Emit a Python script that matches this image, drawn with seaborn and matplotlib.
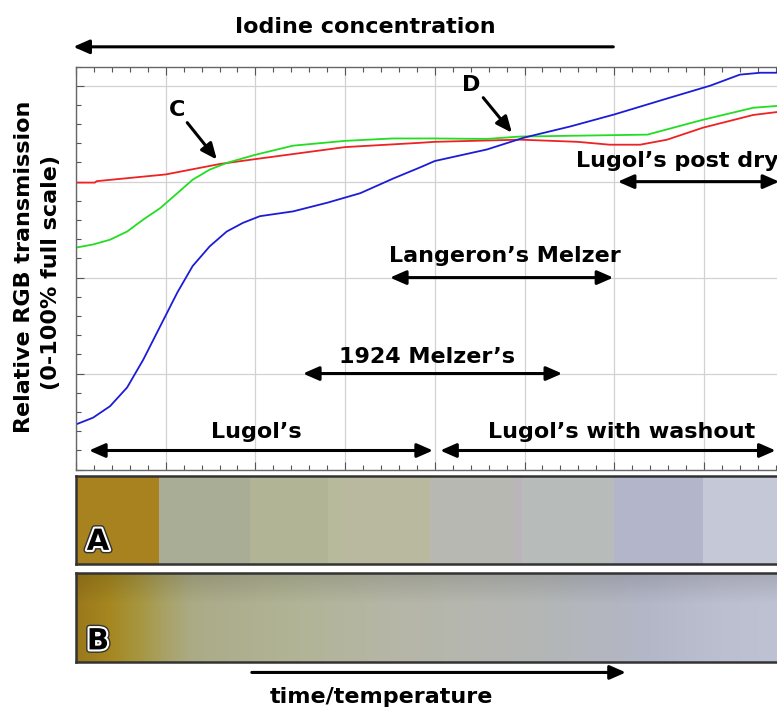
import numpy as np
import matplotlib
matplotlib.use("Agg")
import matplotlib.pyplot as plt
import matplotlib.patheffects as pe
from matplotlib.colors import to_rgb
from matplotlib.ticker import MultipleLocator
import seaborn as sns

# RGB transmission curves
# x in grid units (one vertical gridline per unit), y in % of full scale
red_x = [0, 0.21, 0.23, 1.0, 1.61, 2.0, 3.0, 3.84, 4.0, 4.95, 5.59, 5.95, 6.29, 6.59, 6.99, 7.55, 7.9]
red_y = [59.8, 59.8, 60.1, 61.5, 63.7, 64.7, 67.2, 68.1, 68.3, 68.75, 68.3, 67.7, 67.7, 68.75, 71.25, 73.9, 74.7]

green_x = [0, 0.19, 0.38, 0.57, 0.75, 0.94, 1.13, 1.30, 1.49, 1.68, 2.0, 2.42, 3.0, 3.53,
           4.0, 4.58, 4.95, 6.37, 6.99, 7.55, 7.9]
green_y = [46.25, 46.9, 47.9, 49.6, 52.1, 54.5, 57.6, 60.4, 62.5, 63.9, 65.6, 67.5, 68.5, 69.0,
           69.0, 68.9, 69.4, 69.8, 72.9, 75.4, 75.9]

blue_x = [0, 0.19, 0.38, 0.57, 0.75, 0.94, 1.13, 1.30, 1.49, 1.68, 1.86, 2.05, 2.42, 2.80,
          3.17, 3.53, 3.84, 4.0, 4.58, 5.0, 5.51, 6.0, 6.62, 7.07, 7.40, 7.63, 7.9]
blue_y = [9.4, 10.8, 13.2, 17.1, 22.9, 29.9, 36.9, 42.4, 46.5, 49.6, 51.4, 52.8, 53.8, 55.6,
          57.6, 60.6, 63.0, 64.3, 66.7, 69.2, 71.5, 74.0, 77.5, 80.0, 82.3, 82.7, 82.7]

# colour strip A: block edges (same x units) and block colours
a_edges = [0, 0.93, 1.94, 2.81, 2.98, 3.95, 4.87, 4.97, 6.0, 6.99, 8.6]
a_colors = ["#a8821e", "#aaad95", "#b2b496", "#b7bb9c", "#b9b99f", "#b8b8b2",
            "#b9b5b8", "#b7bcbb", "#b3b6cb", "#c5c8d6"]

# colour strip B: gradient stops
b_pos = [0, 0.35, 0.7, 1.0, 1.3, 1.7, 2.5, 3.5, 4.5, 5.5, 6.3, 7.2, 8.6]
b_colors = ["#9a781c", "#a5861f", "#a7963f", "#a9a268", "#abab86", "#adae8e", "#b2b497",
            "#b5b6a6", "#b6b7b0", "#b3b6ba", "#b3b6c6", "#bcbfd0", "#c3c6d6"]

sns.set_theme(style="white")
plt.rcParams["font.family"] = ["DejaVu Sans"]

W, H = 777, 709
XMAX = 8.6


def box(l, t, r, b):
    return [l / W, 1 - b / H, (r - l) / W, (b - t) / H]


fig = plt.figure(figsize=(W / 100, H / 100), dpi=100)
right_px = 76 + XMAX * 89.7
ax = fig.add_axes(box(76, 66.5, right_px, 469.5))
axA = fig.add_axes(box(76, 475.5, right_px, 564))
axB = fig.add_axes(box(76, 572.5, right_px, 662))

sns.lineplot(x=red_x, y=red_y, color="#ee2222", lw=1.3, ax=ax, estimator=None, sort=False)
sns.lineplot(x=green_x, y=green_y, color="#22dd22", lw=1.3, ax=ax, estimator=None, sort=False)
sns.lineplot(x=blue_x, y=blue_y, color="#1c1cd8", lw=1.3, ax=ax, estimator=None, sort=False)

ax.set_xlim(0, XMAX)
ax.set_ylim(0, 84)
ax.xaxis.set_major_locator(MultipleLocator(1))
ax.xaxis.set_minor_locator(MultipleLocator(0.2))
ax.yaxis.set_major_locator(MultipleLocator(20))
ax.yaxis.set_minor_locator(MultipleLocator(4))
ax.tick_params(which="both", direction="in", top=True, bottom=True, left=True, right=True,
               labelbottom=False, labelleft=False, color="#555555", width=0.8)
ax.tick_params(which="major", length=6)
ax.tick_params(which="minor", length=3.5)
ax.grid(True, which="major", color="#d2d2d2", lw=0.9)
for s in ax.spines.values():
    s.set_color("#666666")
    s.set_linewidth(1)

bold = dict(fontsize=16, fontweight="bold", color="black")
head = "-|>,head_length=0.8,head_width=0.35"
both = "<|-|>,head_length=0.8,head_width=0.35"


def arrow(x0, y0, x1, y1, style=head):
    ax.annotate("", xy=(x1, y1), xytext=(x0, y0), annotation_clip=False,
                arrowprops=dict(arrowstyle=style, lw=2.2, color="black", shrinkA=0, shrinkB=0))


# range labels
ax.text(2.01, 7.9, "Lugol\u2019s", ha="center", va="center", **bold)
arrow(0.145, 3.96, 3.98, 3.96, both)
ax.text(6.08, 7.9, "Lugol\u2019s with washout", ha="center", va="center", **bold)
arrow(4.06, 3.96, 7.80, 3.96, both)
ax.text(3.91, 23.5, "1924 Melzer\u2019s", ha="center", va="center", **bold)
arrow(2.53, 20.0, 5.42, 20.0, both)
ax.text(4.78, 44.4, "Langeron\u2019s Melzer", ha="center", va="center", **bold)
arrow(3.50, 40.0, 5.99, 40.0, both)
ax.text(5.57, 64.2, "Lugol\u2019s post dry", ha="left", va="center", **bold)
arrow(6.04, 60.0, 7.84, 60.0, both)

# crossing points
ax.text(1.13, 75.0, "C", ha="center", va="center", **bold)
arrow(1.24, 72.3, 1.57, 64.6)
ax.text(4.41, 80.2, "D", ha="center", va="center", **bold)
arrow(4.54, 77.5, 4.86, 70.2)

# top and bottom axis arrows
ax.text(3.23, 92.3, "Iodine concentration", ha="center", va="center", **bold)
arrow(5.99, 88.1, -0.03, 88.1)
arrow(1.96, -42.3, 6.13, -42.3)
ax.text(3.40, -47.5, "time/temperature", ha="center", va="center", **bold)

fig.text(24 / W, 1 - 267 / H, "Relative RGB transmission", rotation=90,
         ha="center", va="center", **bold)
fig.text(51 / W, 1 - 272 / H, "(0-100% full scale)", rotation=90,
         ha="center", va="center", **bold)

# strip A: discrete blocks
axA.bar(a_edges[:-1], [1] * len(a_colors), width=np.diff(a_edges), align="edge",
        color=a_colors, lw=0)

# strip B: continuous gradient with darker top edge
xs = np.linspace(0, XMAX, 900)
stops = np.array([to_rgb(c) for c in b_colors])
row = np.stack([np.interp(xs, b_pos, stops[:, k]) for k in range(3)], axis=-1)
depth = np.linspace(0, 1, 80)
shade = np.clip(0.87 + 0.13 * depth / 0.35, None, 1.0)
img = row[None, :, :] * shade[:, None, None]
axB.imshow(img, extent=(0, XMAX, 0, 1), aspect="auto", origin="upper")

for a in (axA, axB):
    a.set_xlim(0, XMAX)
    a.set_ylim(0, 1)
    a.set_xticks([])
    a.set_yticks([])
    for s in a.spines.values():
        s.set_color("#333333")
        s.set_linewidth(1.8)

letter_fx = [pe.Stroke(linewidth=5, foreground="#333333"),
             pe.Stroke(linewidth=3, foreground="white"), pe.Normal()]
axA.text(0.245, 0.25, "A", ha="center", va="center", fontsize=21, fontweight="bold",
         color="black", path_effects=letter_fx)
axB.text(0.245, 0.23, "B", ha="center", va="center", fontsize=21, fontweight="bold",
         color="black", path_effects=letter_fx)

fig.savefig("out.png", dpi=100)
